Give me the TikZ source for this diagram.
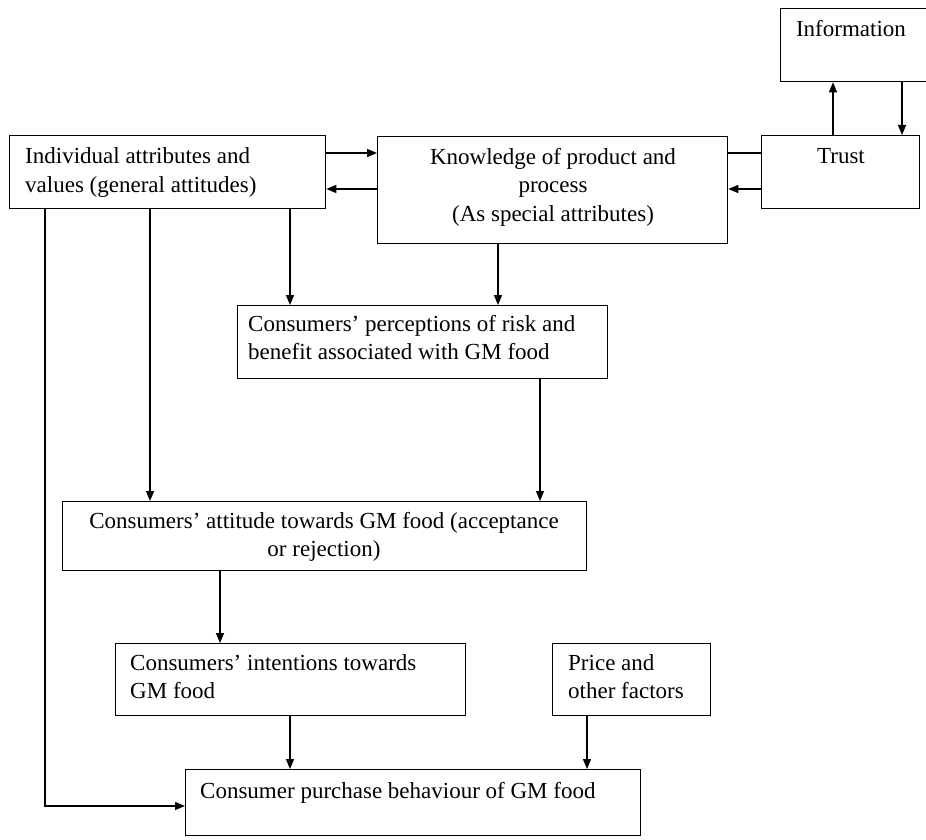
\documentclass[tikz,border=0pt]{standalone}
\usepackage{fontspec}
\setmainfont{Liberation Serif}
\usetikzlibrary{arrows.meta}
\begin{document}
\begin{tikzpicture}[x=1pt,y=-1pt,
  box/.style={draw, line width=1.3pt, inner sep=0pt, anchor=north west},
  txt/.style={inner sep=0pt, font=\fontsize{23}{28.5}\selectfont},
  % multi-line text is placed by the baseline of its last line
  ltxt/.style={txt, align=left, anchor=base west},
  ctxt/.style={txt, align=center, anchor=base},
  link/.style={line width=1.3pt},
  arr/.style={link, -{Triangle[length=10pt,width=8pt]}}]
\useasboundingbox (0,0) rectangle (926,840);

% boxes
\node[box, minimum width=146pt, minimum height=73pt] (info) at (780,8) {};
\node[box, minimum width=158pt, minimum height=73pt] (trust) at (761,135) {};
\node[box, minimum width=350pt, minimum height=107pt] (know) at (377,136) {};
\node[box, minimum width=316pt, minimum height=73pt] (indiv) at (9,135) {};
\node[box, minimum width=370pt, minimum height=73pt] (perc) at (237,305) {};
\node[box, minimum width=524pt, minimum height=69pt] (att) at (62,501) {};
\node[box, minimum width=350pt, minimum height=72pt] (intent) at (115,643) {};
\node[box, minimum width=158pt, minimum height=72pt] (price) at (552,643) {};
\node[box, minimum width=455pt, minimum height=66pt] (buy) at (185,769) {};

% texts
\node[ctxt] (infoT) at (851,37) {Information};
\node[ctxt] (trustT) at (841,164) {Trust};
\node[ctxt] (knowT) at (553,221) {Knowledge of product and\\process\\(As special attributes)};
\node[ltxt] (indivT) at (25,192.5) {Individual attributes and\\values (general attitudes)};
\node[ltxt] (percT) at (248,359.5) {Consumers’ perceptions of risk and\\benefit associated with GM food};
\node[ctxt] (attT) at (324,556.5) {Consumers’ attitude towards GM food (acceptance\\or rejection)};
\node[ltxt] (intentT) at (130,698.5) {Consumers’ intentions towards\\GM food};
\node[ltxt] (priceT) at (568,698.5) {Price and\\other factors};
\node[ltxt] (buyT) at (200,798) {Consumer purchase behaviour of GM food};

% connectors
\draw[arr] (indiv.east |- 0,153) -- (know.west |- 0,153);
\draw[arr] (know.west |- 0,189) -- (indiv.east |- 0,189);
\draw[link] (know.east |- 0,153) -- (trust.west |- 0,153);
\draw[arr] (trust.west |- 0,189) -- (know.east |- 0,189);
\draw[arr] (trust.north -| 833,0) -- (info.south -| 833,0);
\draw[arr] (info.south -| 902,0) -- (trust.north -| 902,0);

\draw[arr] (indiv.south -| 290,0) -- (perc.north -| 290,0);
\draw[arr] (know.south -| 498,0) -- (perc.north -| 498,0);
\draw[arr] (indiv.south -| 150,0) -- (att.north -| 150,0);
\draw[arr] (perc.south -| 540,0) -- (att.north -| 540,0);
\draw[arr] (att.south -| 220,0) -- (intent.north -| 220,0);
\draw[arr] (intent.south -| 290,0) -- (buy.north -| 290,0);
\draw[arr] (price.south -| 587,0) -- (buy.north -| 587,0);
\draw[arr] (indiv.south -| 45,0) -- (45,806) -- (buy.west |- 0,806);
\end{tikzpicture}
\end{document}
